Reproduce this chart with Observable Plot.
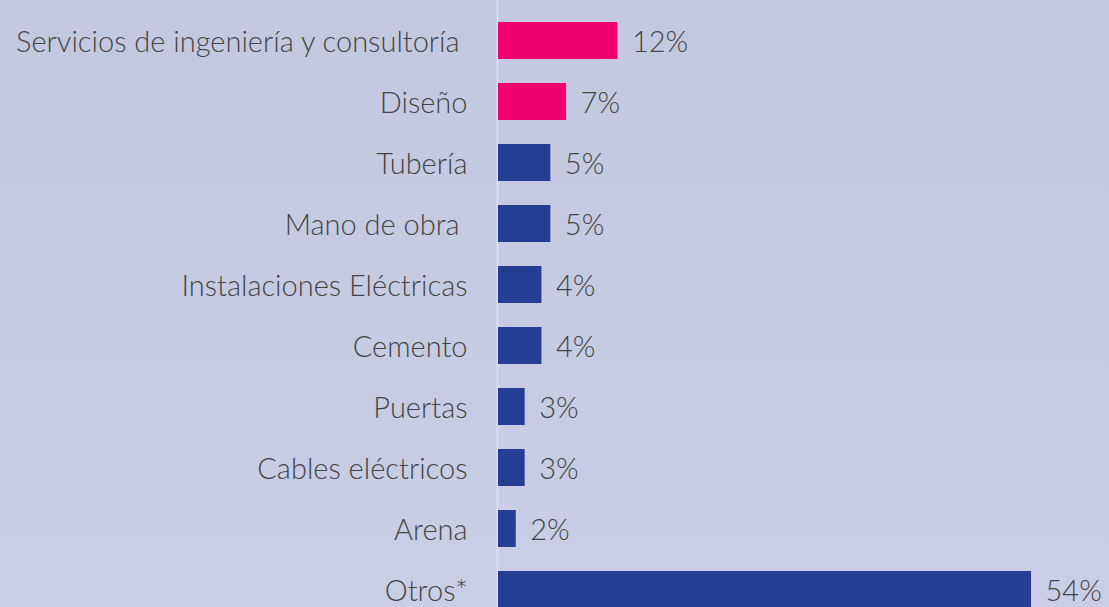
<!DOCTYPE html>
<html><head><meta charset="utf-8">
<script src="https://cdn.jsdelivr.net/npm/d3@7"></script>
<script src="https://cdn.jsdelivr.net/npm/@observablehq/plot@0.6"></script>
<style>
html,body{margin:0;padding:0;}
body{width:1109px;height:607px;overflow:hidden;background:linear-gradient(#c3c8e0,#c9cde6);}
svg{display:block;}
svg text{font-weight:300;}
</style></head>
<body><div id="chart"></div>
<script>
const categories = ["Servicios de ingeniería y consultoría\u00a0","Diseño","Tubería","Mano de obra\u00a0","Instalaciones Eléctricas","Cemento","Puertas","Cables eléctricos","Arena","Otros*"];
const values = [12.1, 6.9, 5.3, 5.3, 4.4, 4.4, 2.7, 2.7, 1.8, 54.0];
const labels = ["12%","7%","5%","5%","4%","4%","3%","3%","2%","54%"];
const highlight = [true, true, false, false, false, false, false, false, false, false];
const data = categories.map((c,i)=>({cat:c, v:values[i], label:labels[i], hi:highlight[i]}));
const FONT = "Lato";
const chart = Plot.plot({
  width:1109, height:607,
  marginLeft:498, marginRight:0, marginTop:0, marginBottom:0,
  style:{background:"transparent", fontFamily:FONT, color:"#444"},
  x:{domain:[0,61.9], axis:null},
  y:{domain:categories, range:[0,630], paddingInner:0.4, paddingOuter:0.355, axis:null},
  marks:[
    Plot.ruleX([0],{stroke:"#d8dbf5", strokeWidth:2, dx:-1}),
    Plot.barX(data,{y:"cat", x:"v", fill:d=>d.hi?"#f0006e":"#263d94"}),
    Plot.text(data,{y:"cat", x:"v", text:"label", textAnchor:"start", dx:14, dy:2, fontSize:29, fill:"#444"}),
    Plot.axisY({tickSize:0, tickPadding:31, fontSize:29, dy:2, color:"#444", label:null})
  ]
});
document.getElementById("chart").append(chart);
</script></body></html>
